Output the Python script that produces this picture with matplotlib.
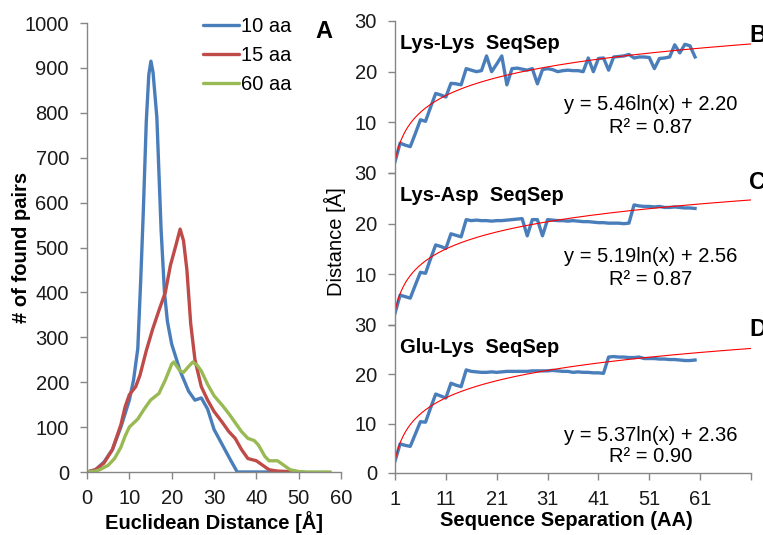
import matplotlib
matplotlib.use("Agg")
import matplotlib.pyplot as plt
import numpy as np

plt.rcParams["font.family"] = ["Liberation Sans", "DejaVu Sans"]

# --- panel A: distance histograms ---
dist_10aa = [0, 2, 4, 6, 8, 10, 11, 12, 12.7, 13.3, 14, 14.6, 15.1, 15.6, 16.5, 17.5,
             18.3, 19, 20, 22, 24, 25.5, 27, 28.5, 30, 32, 34, 35.5, 40, 45, 50]
pairs_10aa = [0, 5, 22, 50, 100, 160, 205, 275, 430, 580, 780, 885, 915, 890, 790, 540,
              400, 335, 285, 225, 180, 160, 165, 140, 95, 60, 25, 0, 0, 0, 0]

dist_15aa = [0, 2, 4, 6, 8, 9, 10, 11.5, 12.5, 14, 15.5, 17, 18.5, 19.7, 21, 22, 22.8,
             23.6, 24.5, 25.5, 27, 28.5, 30, 32, 33.5, 35, 36.5, 38, 40, 41.5, 43, 45, 50]
pairs_15aa = [0, 5, 20, 50, 105, 145, 172, 190, 215, 270, 318, 360, 400, 460, 505, 541, 515,
              450, 330, 250, 190, 160, 135, 110, 90, 75, 50, 30, 25, 15, 5, 2, 0]

dist_60aa = [0, 2, 3, 5, 6.5, 8, 9, 10, 12, 13.5, 15, 17, 18.5, 20, 20.5, 22, 22.8, 24, 25,
             26, 27, 28.5, 30, 32, 33.5, 35, 36.5, 38, 39.5, 40.5, 42, 43, 45, 46.5, 48, 50,
             52, 57.5]
pairs_60aa = [0, 2, 5, 15, 30, 55, 80, 100, 118, 140, 160, 175, 205, 240, 245, 225, 222, 235,
              245, 238, 225, 195, 170, 148, 130, 110, 90, 75, 70, 60, 35, 25, 25, 15, 5, 1,
              0, 0]

# --- panels B-D: mean distance vs sequence separation ---
seq_sep = list(range(1, 61))
lys_lys = [2.2, 5.9, 5.5, 5.2, 7.8, 10.5, 10.2, 13.0, 15.7, 15.4,
           15.0, 17.7, 17.6, 17.4, 20.6, 20.3, 20.0, 20.2, 23.1, 20.0,
           21.5, 23.1, 17.4, 20.6, 20.7, 20.5, 20.3, 20.6, 17.6, 20.4,
           20.6, 20.4, 20.0, 20.2, 20.3, 20.2, 20.2, 20.0, 22.7, 20.0,
           22.6, 22.7, 20.3, 22.9, 23.0, 23.1, 23.4, 22.7, 22.9, 22.9,
           22.8, 20.6, 22.6, 22.7, 22.9, 25.3, 23.7, 25.4, 25.1, 22.9]
lys_asp = [2.3, 5.9, 5.6, 5.3, 7.9, 10.4, 10.2, 13.1, 15.8, 15.5,
           15.1, 18.0, 17.7, 17.4, 20.8, 20.6, 20.7, 20.6, 20.6, 20.5,
           20.6, 20.6, 20.7, 20.8, 20.9, 21.0, 17.6, 20.8, 20.8, 17.6,
           20.8, 20.7, 20.6, 20.6, 20.5, 20.6, 20.5, 20.4, 20.4, 20.3,
           20.2, 20.2, 20.1, 20.1, 20.1, 20.0, 20.1, 23.7, 23.5, 23.4,
           23.4, 23.3, 23.4, 23.2, 23.2, 23.3, 23.2, 23.1, 23.1, 23.0]
glu_lys = [2.4, 5.9, 5.6, 5.4, 7.9, 10.4, 10.3, 13.2, 16.0, 15.6,
           15.2, 18.2, 17.8, 17.5, 20.9, 20.6, 20.5, 20.4, 20.4, 20.5,
           20.4, 20.5, 20.6, 20.6, 20.6, 20.6, 20.6, 20.7, 20.7, 20.7,
           20.7, 20.8, 20.7, 20.6, 20.6, 20.4, 20.5, 20.4, 20.4, 20.3,
           20.3, 20.2, 23.5, 23.6, 23.5, 23.5, 23.4, 23.4, 23.5, 23.2,
           23.2, 23.2, 23.1, 23.1, 23.0, 23.0, 22.9, 22.8, 22.8, 22.9]

pair_titles = ["Lys-Lys  SeqSep", "Lys-Asp  SeqSep", "Glu-Lys  SeqSep"]
fit_a = [5.46, 5.19, 5.37]
fit_b = [2.20, 2.56, 2.36]
fit_r2 = [0.87, 0.87, 0.90]
panel_letters = ["B", "C", "D"]

BLUE, RED, GREEN = "#4A7EBB", "#BE4B48", "#98B954"
GRAY = "#868686"
W, H = 763, 535

fig = plt.figure(figsize=(W / 100, H / 100), dpi=100)


def px_axes(x0, y0, x1, y1):
    return fig.add_axes([x0 / W, 1 - y1 / H, (x1 - x0) / W, (y1 - y0) / H])


def style(ax):
    for s in ("top", "right"):
        ax.spines[s].set_visible(False)
    for s in ("left", "bottom"):
        ax.spines[s].set_color(GRAY)
        ax.spines[s].set_linewidth(1.0)
    ax.tick_params(colors=GRAY, labelcolor="#1a1a1a", labelsize=14.5, length=5, width=1.0)


# panel A
ax = px_axes(87, 23, 341, 472)
style(ax)
kw = dict(lw=2.4, solid_joinstyle="round", solid_capstyle="round")
ax.plot(dist_10aa, pairs_10aa, color=BLUE, label="10 aa", **kw)
ax.plot(dist_15aa, pairs_15aa, color=RED, label="15 aa", **kw)
ax.plot(dist_60aa, pairs_60aa, color=GREEN, label="60 aa", **kw)
ax.set_xlim(0, 60)
ax.set_ylim(0, 1000)
ax.set_xticks(range(0, 61, 10))
ax.set_yticks(range(0, 1001, 100))
ax.tick_params(axis="y", pad=8)
ax.tick_params(axis="x", pad=7)
ax.legend(loc="upper left", bbox_to_anchor=(203 / W, 1 - 17 / H),
          bbox_transform=fig.transFigure, frameon=False, fontsize=14.5,
          handlelength=1.8, handletextpad=0.1, labelspacing=0.5,
          borderpad=0, borderaxespad=0)
fig.text(22 / W, 1 - 247 / H, "# of found pairs", rotation=90, fontsize=14.5,
         fontweight="bold", ha="center", va="center")
fig.text(214 / W, 1 - 522 / H, "Euclidean Distance [Å]", fontsize=14.5,
         fontweight="bold", ha="center", va="center")
fig.text(324 / W, 1 - 32 / H, "A", fontsize=17, fontweight="bold",
         ha="center", va="center")

# panels B-D
rows = [(21, 173), (173, 325), (325, 473)]
series = [lys_lys, lys_asp, glu_lys]
letter_y = [35, 182, 330]
xx = np.linspace(1, 71, 300)
for i, (y0, y1) in enumerate(rows):
    ax = px_axes(395, y0, 751, y1)
    style(ax)
    ax.plot(seq_sep, series[i], color=BLUE, lw=2.4, solid_joinstyle="round")
    ax.plot(xx, fit_a[i] * np.log(xx) + fit_b[i], color="#FF0000", lw=0.8)
    ax.set_xlim(1, 71)
    ax.set_ylim(0, 30)
    ax.set_yticks([0, 10, 20, 30])
    ax.tick_params(axis="y", pad=8)
    last = i == len(rows) - 1
    if last:
        ax.set_xticks(range(1, 72, 10))
        ax.set_xticklabels([str(v) for v in range(1, 62, 10)] + [""])
        ax.tick_params(axis="x", pad=7)
    else:
        ax.set_yticklabels(["", "10", "20", "30"])
        ax.spines["bottom"].set_visible(False)
        ax.tick_params(axis="x", bottom=False, labelbottom=False)
    ax.text(2.0, 25.5, pair_titles[i], fontsize=14.5, fontweight="bold",
            ha="left", va="center")
    eq_y = (13.6, 8.9) if not last else (7.7, 3.3)
    ax.text(51.2, eq_y[0], f"y = {fit_a[i]:.2f}ln(x) + {fit_b[i]:.2f}",
            fontsize=14.5, ha="center", va="center")
    ax.text(51.2, eq_y[1], f"R² = {fit_r2[i]:.2f}", fontsize=14.5,
            ha="center", va="center")
    fig.text(749 / W, 1 - letter_y[i] / H, panel_letters[i], fontsize=17,
             fontweight="bold", ha="left", va="center")

fig.text(335 / W, 1 - 242 / H, "Distance [Å]", rotation=90, fontsize=14.5,
         ha="center", va="center")
fig.text(566 / W, 1 - 521 / H, "Sequence Separation (AA)", fontsize=14.5,
         fontweight="bold", ha="center", va="center")

fig.savefig("out.png", dpi=100)
